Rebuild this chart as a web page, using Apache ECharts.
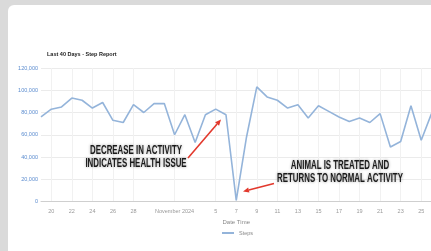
<!DOCTYPE html>
<html><head><meta charset="utf-8">
<script src="https://cdn.jsdelivr.net/npm/echarts@6/dist/echarts.min.js"></script>
<style>
html,body{margin:0;padding:0;width:431px;height:251px;overflow:hidden;background:#dadada;}
#card{position:absolute;left:8px;top:5px;width:520px;height:300px;background:#fff;border-radius:6px;}
#chart{position:absolute;left:0;top:0;width:440px;height:251px;}
</style></head>
<body>
<div id="card"></div>
<div id="chart"></div>
<script>
const dates = ['2024-10-19','2024-10-20','2024-10-21','2024-10-22','2024-10-23','2024-10-24','2024-10-25','2024-10-26','2024-10-27','2024-10-28','2024-10-29','2024-10-30','2024-10-31','2024-11-01','2024-11-02','2024-11-03','2024-11-04','2024-11-05','2024-11-06','2024-11-07','2024-11-08','2024-11-09','2024-11-10','2024-11-11','2024-11-12','2024-11-13','2024-11-14','2024-11-15','2024-11-16','2024-11-17','2024-11-18','2024-11-19','2024-11-20','2024-11-21','2024-11-22','2024-11-23','2024-11-24','2024-11-25','2024-11-26'];
const steps = [76000,83000,85000,93000,91000,84000,89000,73000,71000,87000,80000,88000,88000,60000,78000,53000,78000,83000,78000,1000,58000,103000,94000,91000,84000,87000,75000,86000,81000,76000,72000,75000,71000,79000,49000,54000,86000,55000,79000];
const tickLabels = ['','20','','22','','24','','26','','28','','','','November 2024','','','','5','','7','','9','','11','','13','','15','','17','','19','','21','','23','','25',''];
const yTicks = [0,20000,40000,60000,80000,100000,120000];
const titleText = 'Last 40 Days - Step Report';
const seriesName = 'Steps';
const xName = 'Date Time';
const note1 = ['DECREASE IN ACTIVITY','INDICATES HEALTH ISSUE'];
const note2 = ['ANIMAL IS TREATED AND','RETURNS TO NORMAL ACTIVITY'];

const chart = echarts.init(document.getElementById('chart'), null, {renderer:'canvas'});
const FONT = '"Liberation Sans", Arial, sans-serif';

function arrow(x1,y1,x2,y2,color){
  const a = Math.atan2(y2-y1,x2-x1), L=6, W=2.6;
  const bx = x2 - L*Math.cos(a), by = y2 - L*Math.sin(a);
  const px = -Math.sin(a)*W, py = Math.cos(a)*W;
  return [
    {type:'line', shape:{x1:x1,y1:y1,x2:bx,y2:by}, style:{stroke:color,lineWidth:1.6}, z:100},
    {type:'polygon', shape:{points:[[x2,y2],[bx+px,by+py],[bx-px,by-py]]}, style:{fill:color}, z:100}
  ];
}
function note(lines,cx,cy){
  return lines.map((t,i)=>({
    type:'text', x:cx, y:cy+i*13, scaleX:0.63, z:100,
    style:{text:t, font:'bold 12.5px '+FONT, fill:'#1a1a1a', align:'center', verticalAlign:'middle',
      textShadowColor:'rgba(0,0,0,0.4)', textShadowBlur:3}
  }));
}
const red = '#e2392d';

chart.setOption({
  animation:false,
  title:{text:titleText, left:42, top:46, textStyle:{fontSize:5.5, fontWeight:'bold', color:'#222', fontFamily:FONT}},
  legend:{data:[seriesName], left:217, top:225, itemWidth:12, itemHeight:2, itemGap:4, icon:'rect',
    textStyle:{fontSize:5.5, color:'#888', fontFamily:FONT}},
  grid:{left:41, right:8.5, top:68, bottom:49.5, containLabel:false},
  xAxis:{type:'category', data:dates, boundaryGap:false,
    name:xName, nameLocation:'middle', nameGap:13, nameTextStyle:{fontSize:6, color:'#888', fontFamily:FONT},
    axisLine:{lineStyle:{color:'#cfcfcf', width:1}}, axisTick:{show:false},
    axisLabel:{interval:(i)=>tickLabels[i]!=='', formatter:(v,i)=>tickLabels[i], fontSize:5.5, color:'#999', margin:7, fontFamily:FONT, hideOverlap:false},
    splitLine:{show:true, interval:(i)=>tickLabels[i]!=='', lineStyle:{color:'#f1f1f1', width:1}}
  },
  yAxis:{type:'value', min:yTicks[0], max:yTicks[yTicks.length-1], interval:20000,
    axisLine:{show:false}, axisTick:{show:false},
    axisLabel:{fontSize:5.5, color:'#5b8ccf', margin:3, fontFamily:FONT, formatter:(v)=>v.toLocaleString('en-US')},
    splitLine:{lineStyle:{color:'#ebebeb', width:1}}
  },
  series:[{name:seriesName, type:'line', data:steps, symbol:'none', smooth:false,
    lineStyle:{color:'#94b4da', width:1.6}, itemStyle:{color:'#94b4da'}}],
  graphic:[].concat(
    note(note1,136,151),
    note(note2,340,166),
    arrow(188,158,221,119.5,red),
    arrow(274,183.5,243,191.5,red)
  )
});
</script>
</body></html>
